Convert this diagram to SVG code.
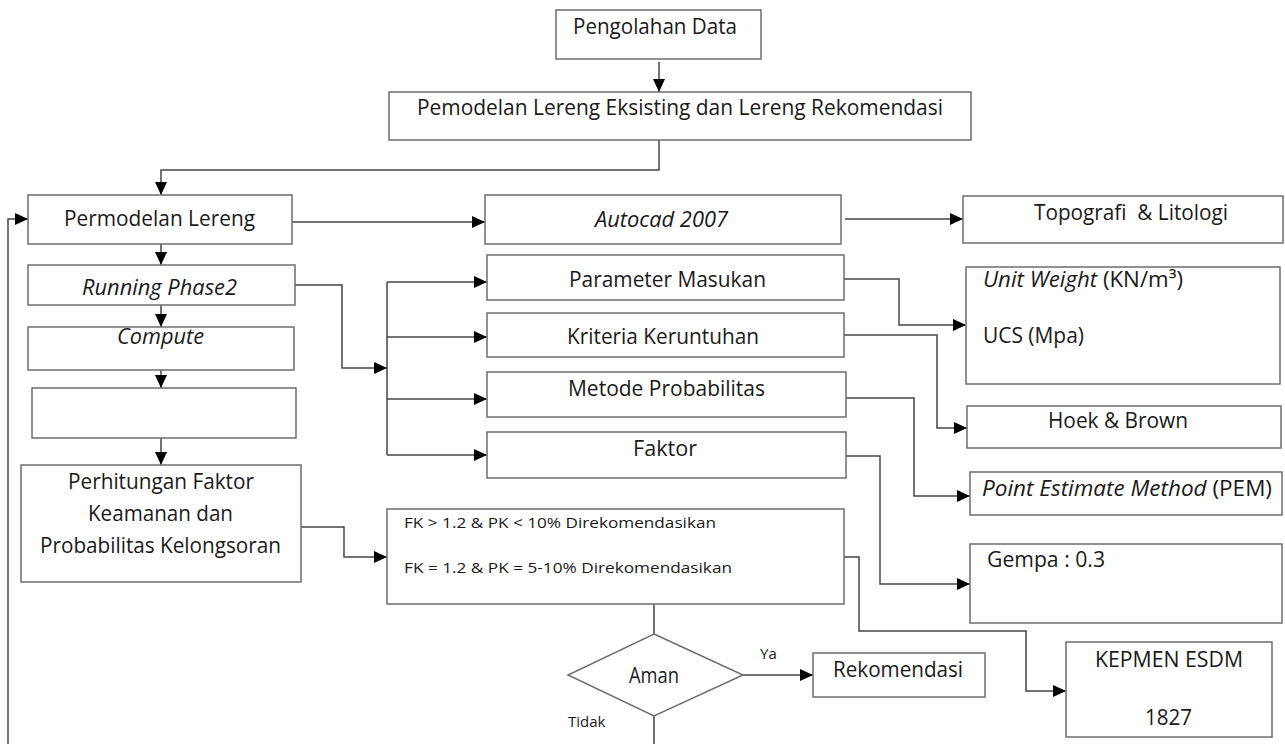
<svg xmlns="http://www.w3.org/2000/svg" width="1285" height="744" viewBox="0 0 1285 744">
<style>
.box{fill:#fff;stroke:#6e6e6e;stroke-width:1.5}
.c{fill:none;stroke:#454545;stroke-width:1.5}
.t{font-family:"Open Sans","Liberation Sans",sans-serif;font-size:21px;fill:#1a1a1a}
.s{font-family:"Open Sans","Liberation Sans",sans-serif;font-size:15px;fill:#1a1a1a}
.i{font-style:italic}
</style>
<defs>
<marker id="ah" markerUnits="userSpaceOnUse" markerWidth="14" markerHeight="12" refX="13" refY="6" orient="auto">
<path d="M0,0 L13,6 L0,12 Z" fill="#000"/>
</marker>
</defs>
<rect width="1285" height="744" fill="#fff"/>
<g id="connectors">
<path class="c" d="M659,62 V92" marker-end="url(#ah)"/>
<path class="c" d="M659,140 V170 H161 V195" marker-end="url(#ah)"/>
<path class="c" d="M292,222 H485" marker-end="url(#ah)"/>
<path class="c" d="M845,219 H963" marker-end="url(#ah)"/>
<path class="c" d="M161,244 V265" marker-end="url(#ah)"/>
<path class="c" d="M161,305 V327" marker-end="url(#ah)"/>
<path class="c" d="M161,370 V388" marker-end="url(#ah)"/>
<path class="c" d="M161,438 V465" marker-end="url(#ah)"/>
<path class="c" d="M295,285 H342 V368 H387" marker-end="url(#ah)"/>
<path class="c" d="M387,282 V455"/>
<path class="c" d="M387,282 H487" marker-end="url(#ah)"/>
<path class="c" d="M387,337 H487" marker-end="url(#ah)"/>
<path class="c" d="M387,399 H487" marker-end="url(#ah)"/>
<path class="c" d="M387,455 H487" marker-end="url(#ah)"/>
<path class="c" d="M844,279 H899 V325 H966" marker-end="url(#ah)"/>
<path class="c" d="M844,335 H937 V428 H967" marker-end="url(#ah)"/>
<path class="c" d="M846,398 H914 V496 H970" marker-end="url(#ah)"/>
<path class="c" d="M846,456 H880 V584 H970" marker-end="url(#ah)"/>
<path class="c" d="M301,527 H344 V557 H387" marker-end="url(#ah)"/>
<path class="c" d="M844,557 H859 V631 H1026 V691 H1066" marker-end="url(#ah)"/>
<path class="c" d="M654,604 V634"/>
<path class="c" d="M743,675 H813" marker-end="url(#ah)"/>
<path class="c" d="M654,716 V744"/>
<path class="c" d="M8,744 V219 H28" marker-end="url(#ah)"/>
</g>
<g id="pengolahan"><rect class="box" x="556" y="10" width="205" height="49"/><text class="t" x="573" y="34" textLength="164" lengthAdjust="spacingAndGlyphs">Pengolahan Data</text></g>
<g id="pemodelan"><rect class="box" x="389" y="92" width="582" height="48"/><text class="t" x="417" y="115" textLength="526" lengthAdjust="spacingAndGlyphs">Pemodelan Lereng Eksisting dan Lereng Rekomendasi</text></g>
<g id="permodelan"><rect class="box" x="28" y="195" width="264" height="49"/><text class="t" x="64" y="226" textLength="191" lengthAdjust="spacingAndGlyphs">Permodelan Lereng</text></g>
<g id="autocad"><rect class="box" x="485" y="195" width="356" height="49"/><text class="t i" x="595" y="227" textLength="133" lengthAdjust="spacingAndGlyphs">Autocad 2007</text></g>
<g id="topografi"><rect class="box" x="963" y="196" width="320" height="47"/><text class="t" x="1034" y="220" textLength="194" lengthAdjust="spacingAndGlyphs" xml:space="preserve">Topografi  &amp; Litologi</text></g>
<g id="running"><rect class="box" x="28" y="265" width="267" height="40"/><text class="t i" x="82" y="295" textLength="155" lengthAdjust="spacingAndGlyphs">Running Phase2</text></g>
<g id="compute"><rect class="box" x="28" y="327" width="266" height="43"/><text class="t i" x="117" y="344" textLength="87" lengthAdjust="spacingAndGlyphs">Compute</text></g>
<g id="empty"><rect class="box" x="32" y="388" width="264" height="50"/></g>
<g id="perhitungan"><rect class="box" x="21" y="465" width="280" height="117"/>
<text class="t" x="68" y="489" textLength="186" lengthAdjust="spacingAndGlyphs">Perhitungan Faktor</text>
<text class="t" x="88" y="521" textLength="145" lengthAdjust="spacingAndGlyphs">Keamanan dan</text>
<text class="t" x="40" y="553" textLength="241" lengthAdjust="spacingAndGlyphs">Probabilitas Kelongsoran</text></g>
<g id="parameter"><rect class="box" x="487" y="255" width="357" height="45"/><text class="t" x="569" y="287" textLength="197" lengthAdjust="spacingAndGlyphs">Parameter Masukan</text></g>
<g id="kriteria"><rect class="box" x="487" y="313" width="357" height="44"/><text class="t" x="567" y="344" textLength="192" lengthAdjust="spacingAndGlyphs">Kriteria Keruntuhan</text></g>
<g id="metode"><rect class="box" x="487" y="372" width="359" height="45"/><text class="t" x="568" y="396" textLength="197" lengthAdjust="spacingAndGlyphs">Metode Probabilitas</text></g>
<g id="faktor"><rect class="box" x="487" y="432" width="359" height="46"/><text class="t" x="633" y="456" textLength="64" lengthAdjust="spacingAndGlyphs">Faktor</text></g>
<g id="unitweight"><rect class="box" x="966" y="267" width="314" height="117"/>
<text class="t" x="983" y="287" textLength="200" lengthAdjust="spacingAndGlyphs"><tspan class="i">Unit Weight</tspan> (KN/m³)</text>
<text class="t" x="983" y="343" textLength="101" lengthAdjust="spacingAndGlyphs">UCS (Mpa)</text></g>
<g id="hoek"><rect class="box" x="967" y="406" width="314" height="42"/><text class="t" x="1048" y="428" textLength="140" lengthAdjust="spacingAndGlyphs">Hoek &amp; Brown</text></g>
<g id="pem"><rect class="box" x="970" y="472" width="312" height="43"/><text class="t" x="982" y="496" textLength="290" lengthAdjust="spacingAndGlyphs"><tspan class="i">Point Estimate Method</tspan> (PEM)</text></g>
<g id="gempa"><rect class="box" x="970" y="544" width="312" height="79"/><text class="t" x="987" y="567" textLength="118" lengthAdjust="spacingAndGlyphs">Gempa : 0.3</text></g>
<g id="fk"><rect class="box" x="387" y="509" width="457" height="95"/>
<text class="s" x="404" y="528" textLength="312" lengthAdjust="spacingAndGlyphs">FK &gt; 1.2 &amp; PK &lt; 10% Direkomendasikan</text>
<text class="s" x="404" y="573" textLength="328" lengthAdjust="spacingAndGlyphs">FK = 1.2 &amp; PK = 5-10% Direkomendasikan</text></g>
<g id="aman"><path class="box" d="M654,634 L743,675 L654,716 L568,675 Z"/><text class="t" x="629" y="683" textLength="50" lengthAdjust="spacingAndGlyphs">Aman</text></g>
<g id="rekomendasi"><rect class="box" x="813" y="653" width="172" height="44"/><text class="t" x="833" y="677" textLength="130" lengthAdjust="spacingAndGlyphs">Rekomendasi</text></g>
<g id="kepmen"><rect class="box" x="1066" y="642" width="206" height="95"/>
<text class="t" x="1095" y="667" textLength="148" lengthAdjust="spacingAndGlyphs">KEPMEN ESDM</text>
<text class="t" x="1145" y="725" textLength="47" lengthAdjust="spacingAndGlyphs">1827</text></g>
<g id="labels">
<text class="s" x="760" y="659">Ya</text>
<text class="s" x="568" y="727">Tidak</text>
</g>
</svg>
